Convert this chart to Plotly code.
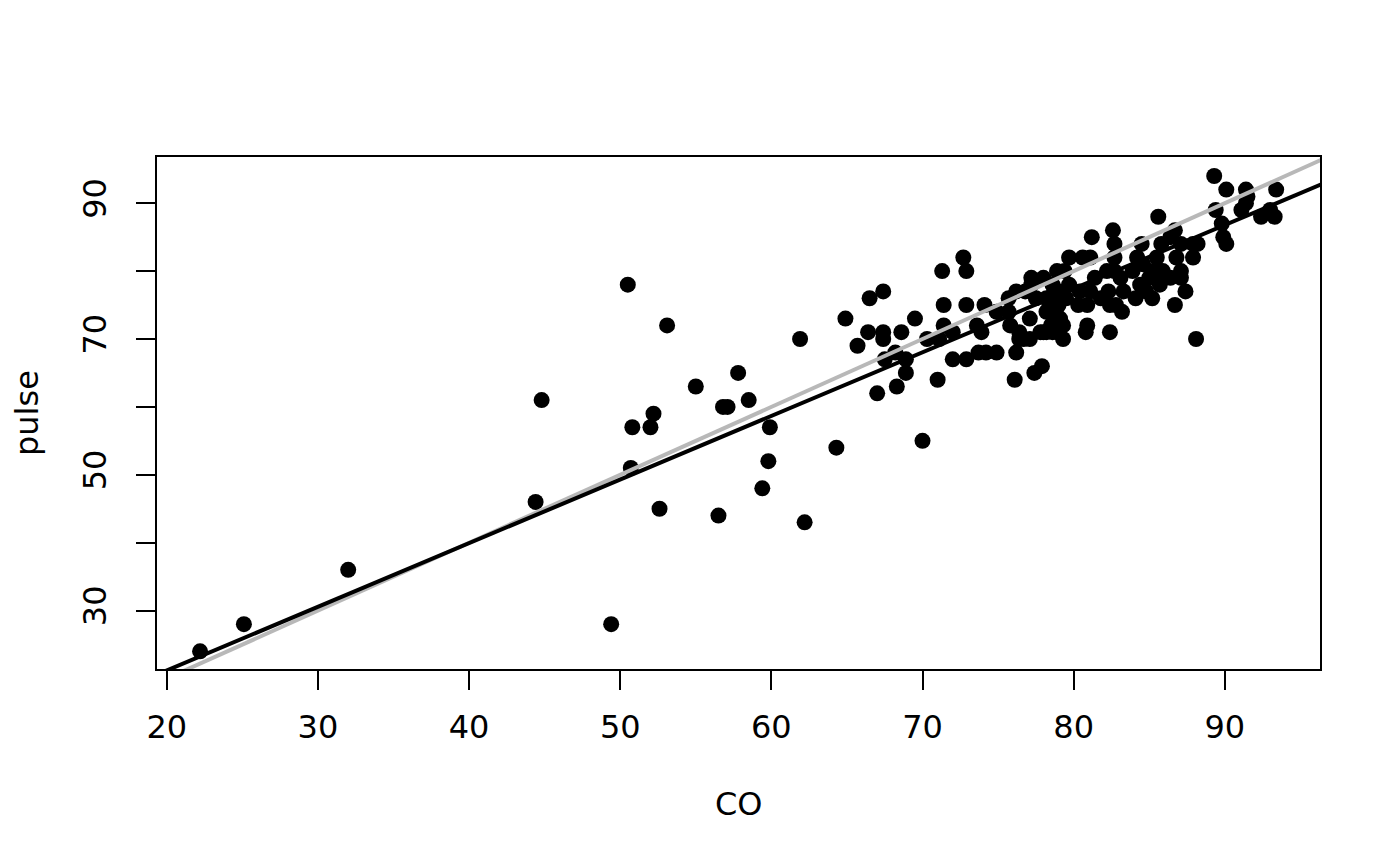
"""
Nuage CO vs pulse, avec droite identité (gris) et droite de régression (noir).
"""
import plotly.graph_objects as go

# --- Données ---
co = [
    22.2, 25.1, 32.0, 44.4, 44.8, 49.4, 50.5, 50.7, 50.8, 52.0,
    52.2, 52.6, 53.1, 55.0, 56.5, 56.8, 57.1, 57.8, 58.5, 59.4,
    59.8, 59.9, 61.9, 62.2, 64.3, 64.9, 65.7, 66.4, 66.5, 67.0,
    67.4, 67.4, 67.4, 67.5, 68.2, 68.3, 68.6, 68.9, 68.9, 69.5,
    70.0, 70.3, 71.0, 71.1, 71.3, 71.4, 71.4, 72.0, 72.0, 72.7,
    72.9, 72.9, 72.9, 73.6, 73.7, 73.9, 74.1, 74.2, 74.9, 74.9,
    75.7, 75.7, 75.8, 76.1, 76.2, 76.2, 76.4, 76.4, 76.7, 76.8,
    77.1, 77.1, 77.2, 77.2, 77.4, 77.5, 77.8, 77.9, 78.0, 78.0,
    78.2, 78.2, 78.2, 78.4, 78.6, 78.6, 78.9, 78.9, 79.1, 79.1,
    79.1, 79.3, 79.3, 79.4, 79.7, 79.7, 80.3, 80.4, 80.6, 80.8,
    80.9, 80.9, 81.1, 81.1, 81.2, 81.4, 81.8, 82.2, 82.3, 82.4,
    82.4, 82.6, 82.7, 82.7, 82.7, 82.8, 83.1, 83.2, 83.3, 83.9,
    84.1, 84.2, 84.4, 84.5, 84.6, 84.8, 85.0, 85.2, 85.3, 85.5,
    85.6, 85.7, 85.8, 85.9, 86.4, 86.4, 86.7, 86.7, 86.8, 87.1,
    87.1, 87.1, 87.4, 87.9, 87.9, 88.1, 88.2, 89.3, 89.4, 89.8,
    89.9, 90.1, 90.1, 91.1, 91.4, 91.5, 91.4, 92.4, 93.0, 93.3,
    93.4, 78.7, 79.0, 78.8, 79.5, 78.5,
]
pulse = [
    24, 28, 36, 46, 61, 28, 78, 51, 57, 57,
    59, 45, 72, 63, 44, 60, 60, 65, 61, 48,
    52, 57, 70, 43, 54, 73, 69, 71, 76, 62,
    77, 71, 70, 67, 68, 63, 71, 67, 65, 73,
    55, 70, 64, 70, 80, 75, 72, 71, 67, 82,
    80, 75, 67, 72, 68, 71, 75, 68, 74, 68,
    74, 76, 72, 64, 77, 68, 71, 70, 70, 77,
    73, 70, 79, 78, 65, 76, 71, 66, 79, 71,
    76, 74, 71, 75, 78, 71, 80, 71, 77, 76,
    73, 72, 70, 80, 82, 78, 75, 77, 82, 71,
    75, 72, 82, 77, 85, 79, 76, 80, 77, 75,
    71, 86, 84, 82, 80, 75, 79, 74, 77, 80,
    76, 82, 78, 84, 81, 77, 79, 76, 80, 82,
    88, 78, 84, 80, 85, 79, 86, 75, 82, 84,
    80, 79, 77, 84, 82, 70, 84, 94, 89, 87,
    85, 84, 92, 89, 90, 91, 92, 88, 89, 88,
    92, 77, 75, 74, 76, 72,
]

# droites (ordonnée à l'origine, pente)
identite = (0.0, 1.0)
regression = (2.45, 0.937)

x_ticks = [20, 30, 40, 50, 60, 70, 80, 90]
y_ticks = [30, 40, 50, 60, 70, 80, 90]
y_ticktext = ["30", "", "50", "", "70", "", "90"]

x_range = [19.35, 96.3]
y_range = [21.4, 96.8]

FONT = "DejaVu Sans"


def droite(coef):
    a, b = coef
    xs = [x_range[0] - 5, x_range[1] + 5]
    return xs, [a + b * v for v in xs]


fig = go.Figure()
fig.add_trace(go.Scatter(
    x=co, y=pulse, mode="markers",
    marker=dict(color="black", size=16, line=dict(width=0)),
    cliponaxis=True, showlegend=False,
))
xs, ys = droite(identite)
fig.add_trace(go.Scatter(x=xs, y=ys, mode="lines",
                         line=dict(color="#b8b8b8", width=4), showlegend=False))
xs, ys = droite(regression)
fig.add_trace(go.Scatter(x=xs, y=ys, mode="lines",
                         line=dict(color="black", width=4), showlegend=False))

axe = dict(
    showgrid=False, zeroline=False,
    showline=True, linecolor="black", linewidth=2, mirror=True,
    ticks="outside", ticklen=19, tickwidth=2, tickcolor="black",
    tickfont=dict(family=FONT, size=32, color="black"),
)
fig.update_xaxes(range=x_range, tickvals=x_ticks, ticklabelstandoff=10, **axe)
fig.update_yaxes(range=y_range, tickvals=y_ticks, ticktext=y_ticktext,
                 tickangle=-90, ticklabelstandoff=17, **axe)

fig.add_annotation(text="CO", xref="paper", yref="paper", x=0.5, y=0,
                   yanchor="middle", yshift=-135, showarrow=False,
                   font=dict(family=FONT, size=32, color="black"))
fig.add_annotation(text="pulse", xref="paper", yref="paper", x=0, y=0.5,
                   xanchor="center", xshift=-130, textangle=-90, showarrow=False,
                   font=dict(family=FONT, size=32, color="black"))

fig.update_layout(
    width=1400, height=866,
    margin=dict(l=149, r=88, t=149, b=205),
    plot_bgcolor="white", paper_bgcolor="white",
)
fig.write_html("out.html")
